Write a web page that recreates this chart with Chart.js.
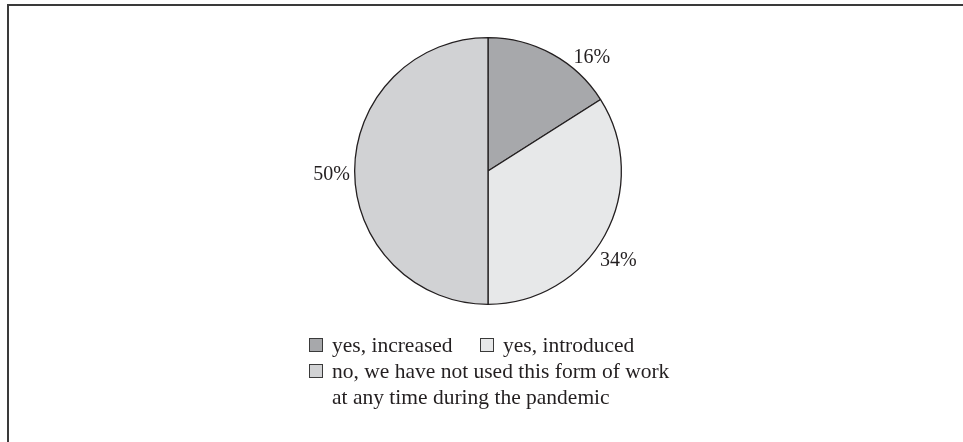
<!DOCTYPE html>
<html>
<head>
<meta charset="utf-8">
<script src="https://cdn.jsdelivr.net/npm/chart.js@4/dist/chart.umd.min.js"></script>
<style>
  html, body { margin: 0; padding: 0; background: #ffffff; }
  #frame {
    position: absolute; left: 7px; top: 4px; width: 956px; height: 438px;
    border-top: 2px solid #3a3a3a; border-left: 2px solid #3a3a3a;
  }
  #chart { position: absolute; left: 0; top: 0; }
</style>
</head>
<body>
<div id="frame"></div>
<canvas id="chart" width="963" height="442"></canvas>
<script>
// Answers to the survey question, share of respondents (%)
const categories = [
  "yes, increased",
  "yes, introduced",
  "no, we have not used this form of work at any time during the pandemic"
];
const shares = [16, 34, 50];
const shareLabels = ["16%", "34%", "50%"];
const sliceColors = ["#a7a8ab", "#e7e8e9", "#d1d2d4"];

const TEXT_COLOR = "#231f20";
const SERIF = "'Liberation Serif', 'Times New Roman', serif";

// Percent labels placed just outside the rim of each slice
const outsideLabels = {
  id: "outsideLabels",
  afterDatasetsDraw(chart, args, opts) {
    const ctx = chart.ctx;
    const meta = chart.getDatasetMeta(0);
    ctx.save();
    ctx.font = opts.font;
    ctx.fillStyle = opts.color;
    ctx.textAlign = "center";
    ctx.textBaseline = "middle";
    meta.data.forEach((arc, i) => {
      const p = arc.getProps(["x", "y", "outerRadius"], true);
      const a = opts.angles[i] * Math.PI / 180;
      const r = p.outerRadius + opts.gap;
      ctx.fillText(opts.texts[i], p.x + r * Math.sin(a), p.y - r * Math.cos(a) + opts.shiftY);
    });
    ctx.restore();
  }
};

// Legend with square swatches; long entries wrap onto a second line
const boxLegend = {
  id: "boxLegend",
  afterDraw(chart, args, opts) {
    const ctx = chart.ctx;
    const labels = chart.data.labels;
    const colors = chart.data.datasets[0].backgroundColor;
    ctx.save();
    ctx.font = opts.font;
    ctx.textBaseline = "middle";
    ctx.textAlign = "left";
    labels.forEach((label, i) => {
      const pos = opts.items[i];
      const s = opts.box;
      ctx.fillStyle = colors[i];
      ctx.fillRect(pos.x, pos.y - s / 2, s, s);
      ctx.strokeStyle = "#3a3a3a";
      ctx.lineWidth = 1;
      ctx.strokeRect(pos.x + 0.5, pos.y - s / 2 + 0.5, s - 1, s - 1);
      // word wrap
      const words = label.split(" ");
      const lines = [];
      let line = "";
      words.forEach(w => {
        const test = line ? line + " " + w : w;
        if (ctx.measureText(test).width > opts.maxWidth && line) {
          lines.push(line);
          line = w;
        } else {
          line = test;
        }
      });
      lines.push(line);
      ctx.fillStyle = opts.color;
      lines.forEach((ln, k) => {
        ctx.fillText(ln, pos.x + s + opts.textGap, pos.y + opts.shiftY + k * opts.lineHeight);
      });
    });
    ctx.restore();
  }
};

new Chart(document.getElementById("chart"), {
  type: "pie",
  data: {
    labels: categories,
    datasets: [{
      data: shares,
      backgroundColor: sliceColors,
      borderColor: "#231f20",
      borderWidth: 1.3,
      hoverOffset: 0
    }]
  },
  options: {
    responsive: false,
    animation: false,
    devicePixelRatio: 1,
    rotation: 0,
    layout: { padding: { left: 354, right: 341, top: 37, bottom: 137 } },
    plugins: {
      legend: { display: false },
      tooltip: { enabled: false },
      outsideLabels: {
        texts: shareLabels,
        angles: [41.6, 123.5, 270],
        gap: 23,
        shiftY: 3.5,
        font: "20px " + SERIF,
        color: TEXT_COLOR
      },
      boxLegend: {
        items: [{ x: 309, y: 345 }, { x: 480, y: 345 }, { x: 309, y: 371 }],
        box: 14,
        textGap: 9,
        lineHeight: 26,
        shiftY: 1,
        maxWidth: 350,
        font: "21.5px " + SERIF,
        color: TEXT_COLOR
      }
    }
  },
  plugins: [outsideLabels, boxLegend]
});
</script>
</body>
</html>
